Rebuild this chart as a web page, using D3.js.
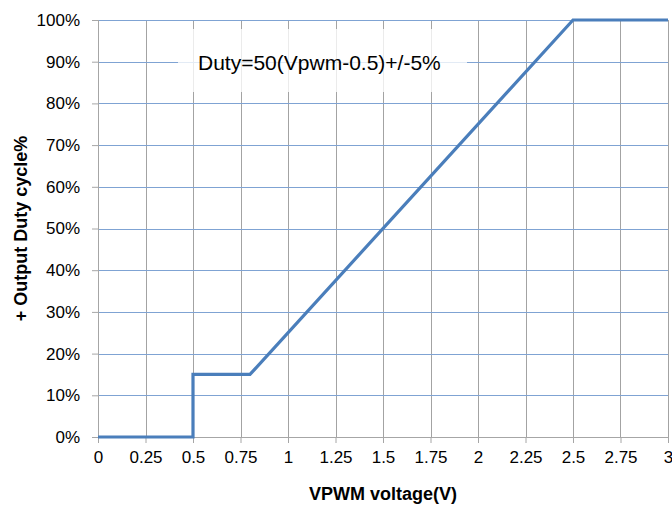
<!DOCTYPE html>
<html>
<head>
<meta charset="utf-8">
<script src="https://cdn.jsdelivr.net/npm/d3@7"></script>
<style>
  html, body { margin: 0; padding: 0; background: #fff; }
  svg { display: block; }
  text { font-family: "Liberation Sans", Arial, sans-serif; fill: #000; }
</style>
</head>
<body>
<svg id="chart" width="672" height="505"></svg>
<script>
// PWM input voltage (V) vs. output duty cycle (%)
const vpwm = [0, 0.5, 0.5, 0.8, 2.5, 3];
const duty = [0, 0, 15, 15, 100, 100];

const xTicks = [0, 0.25, 0.5, 0.75, 1, 1.25, 1.5, 1.75, 2, 2.25, 2.5, 2.75, 3];
const yTicks = [0, 10, 20, 30, 40, 50, 60, 70, 80, 90, 100];

const xTitle = "VPWM voltage(V)";
const yTitle = "+ Output Duty cycle%";
const note = "Duty=50(Vpwm-0.5)+/-5%";

const W = 672, H = 505;
const margin = { top: 20, right: 4, bottom: 68, left: 98 };

const svg = d3.select("#chart");
const x = d3.scaleLinear().domain([0, 3]).range([margin.left, W - margin.right]);
const y = d3.scaleLinear().domain([0, 100]).range([H - margin.bottom, margin.top]);

const crisp = v => Math.round(v) + 0.5;

// vertical gridlines
svg.append("g")
  .selectAll("line")
  .data(xTicks.slice(1))
  .join("line")
  .attr("x1", d => crisp(x(d))).attr("x2", d => crisp(x(d)))
  .attr("y1", y(100)).attr("y2", y(0))
  .attr("stroke", "#a3a3a3").attr("stroke-width", 1);

// horizontal gridlines
svg.append("g")
  .selectAll("line")
  .data(yTicks.slice(1))
  .join("line")
  .attr("x1", x(0)).attr("x2", x(3))
  .attr("y1", d => crisp(y(d))).attr("y2", d => crisp(y(d)))
  .attr("stroke", "#7fa3d3").attr("stroke-width", 1);

// axes
const fmtX = d3.format("");
const xAxis = svg.append("g")
  .attr("transform", `translate(0,${crisp(y(0)) - 0.5})`)
  .call(d3.axisBottom(x).tickValues(xTicks).tickFormat(d => fmtX(d)).tickSize(6).tickPadding(8));
const yAxis = svg.append("g")
  .attr("transform", `translate(${crisp(x(0)) - 0.5},0)`)
  .call(d3.axisLeft(y).tickValues(yTicks).tickFormat(d => d + "%").tickSize(6).tickPadding(12));

[xAxis, yAxis].forEach(g => {
  g.select(".domain").attr("stroke", "#a6a6a6").attr("stroke-width", 1);
  g.selectAll(".tick line").attr("stroke", "#a6a6a6");
  g.selectAll(".tick text")
    .attr("font-family", "'Liberation Sans', Arial, sans-serif")
    .attr("font-size", 17)
    .attr("fill", "#222");
});
xAxis.select(".domain").attr("d", `M${x(0)},0.5H${x(3)}`);
yAxis.select(".domain").attr("d", `M0.5,${y(100)}V${y(0)}`);

// translucent box behind the formula
svg.append("rect")
  .attr("x", 178).attr("y", 29).attr("width", 289).attr("height", 63)
  .attr("fill", "#fff").attr("fill-opacity", 0.78);

svg.append("text")
  .attr("x", 198).attr("y", 70)
  .attr("font-size", 21)
  .attr("fill", "#111")
  .text(note);

// transfer curve
const line = d3.line().x((d, i) => x(vpwm[i])).y(d => y(d));
svg.append("path")
  .datum(duty)
  .attr("d", line)
  .attr("fill", "none")
  .attr("stroke", "#4a7ebb")
  .attr("stroke-width", 3.2)
  .attr("stroke-linejoin", "miter");

// axis titles
svg.append("text")
  .attr("x", (x(0) + x(3)) / 2)
  .attr("y", 500)
  .attr("text-anchor", "middle")
  .attr("font-size", 18)
  .attr("font-weight", "bold")
  .text(xTitle);

svg.append("text")
  .attr("transform", `translate(27,${(y(0) + y(100)) / 2 + 0}) rotate(-90)`)
  .attr("text-anchor", "middle")
  .attr("font-size", 18)
  .attr("font-weight", "bold")
  .text(yTitle);
</script>
</body>
</html>
